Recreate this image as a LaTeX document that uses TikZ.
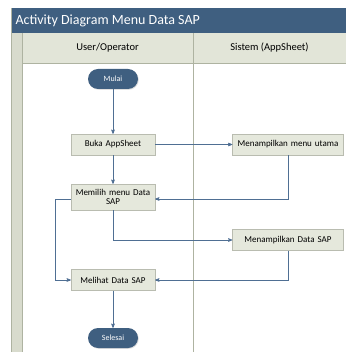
\documentclass[tikz,border=0pt]{standalone}
\usepackage{fontspec}
\setmainfont{Carlito}
\usetikzlibrary{shapes, arrows, shadows}

\definecolor{titleblue}{HTML}{3F5F80}
\definecolor{lanegray}{HTML}{E2E5D8}
\definecolor{stripgray}{HTML}{D8DBCD}
\definecolor{laneline}{HTML}{AEB3A1}
\definecolor{boxfill}{HTML}{E5E8DC}
\definecolor{boxline}{HTML}{B9BCB0}
\definecolor{flowblue}{HTML}{4F6F93}

\tikzset{
    terminal/.style={rectangle, rounded corners=10pt, fill=titleblue, text=white,
        minimum width=50pt, minimum height=20pt, font=\fontsize{8}{9}\selectfont,
        drop shadow={opacity=0.25, shadow xshift=0.8pt, shadow yshift=-0.8pt}},
    activity/.style={rectangle, draw=boxline, fill=boxfill, minimum width=84pt,
        minimum height=21pt, text width=82pt, align=center, inner sep=1pt,
        font=\fontsize{9}{9.5}\selectfont,
        drop shadow={opacity=0.25, shadow xshift=0.8pt, shadow yshift=-0.8pt}},
    sysactivity/.style={activity, minimum width=111pt, text width=108pt},
    flow/.style={->, >=stealth', draw=flowblue, line width=0.6pt}
}

\begin{document}
\begin{tikzpicture}[x=1pt, y=-1pt]
    \useasboundingbox (0,0) rectangle (346,352);
    % swimlane frame
    \fill[stripgray] (11,8) rectangle (346,352);
    \fill[white] (22,63) rectangle (346,352);
    \fill[lanegray] (22,33) rectangle (346,63);
    \fill[titleblue] (11,8) rectangle (346,33);
    \draw[laneline] (11,8) -- (11,352);
    \draw[laneline] (22,33) -- (22,352);
    \draw[laneline] (22,63) -- (346,63);
    \draw[laneline] (193,33) -- (193,352);
    \node[anchor=west, text=white, font=\fontsize{14}{15}\selectfont] (Title) at (12,20.5) {Activity Diagram Menu Data SAP};
    \node[font=\fontsize{10.5}{11}\selectfont] (LaneUser) at (107.5,48) {User/Operator};
    \node[font=\fontsize{10.5}{11}\selectfont] (LaneSystem) at (269.5,48) {Sistem (AppSheet)};

    \node[terminal]     (Mulai)      at (113,79)    {Mulai};
    \node[activity]     (Buka)       [below of=Mulai, node distance=65.5pt]    {Buka AppSheet};
    \node[sysactivity]  (MenuUtama)  at (288,144.5)  {Menampilkan menu utama};
    \node[activity, minimum height=26pt] (Memilih) [below of=Buka, node distance=52.5pt] {Memilih menu Data\\SAP};
    \node[sysactivity]  (TampilData) at (288,240)   {Menampilkan Data SAP};
    \node[activity]     (Melihat)    [below of=Memilih, node distance=83pt]    {Melihat Data SAP};
    \node[terminal]     (Selesai)    [below of=Melihat, node distance=58pt]    {Selesai};

    \draw[flow] (Mulai) -- (Buka);
    \draw[flow] (Buka) -- (MenuUtama);
    \draw[flow] (Buka) -- (Memilih);
    \draw[flow] (MenuUtama) |- ([yshift=-2pt]Memilih.east);
    \draw[flow] (Memilih) |- (TampilData);
    \draw[flow] ([yshift=-2pt]Memilih.west) -- ++(-16,0) |- (Melihat);
    \draw[flow] (TampilData) |- (Melihat);
    \draw[flow] (Melihat) -- (Selesai);

\end{tikzpicture}
\end{document}
